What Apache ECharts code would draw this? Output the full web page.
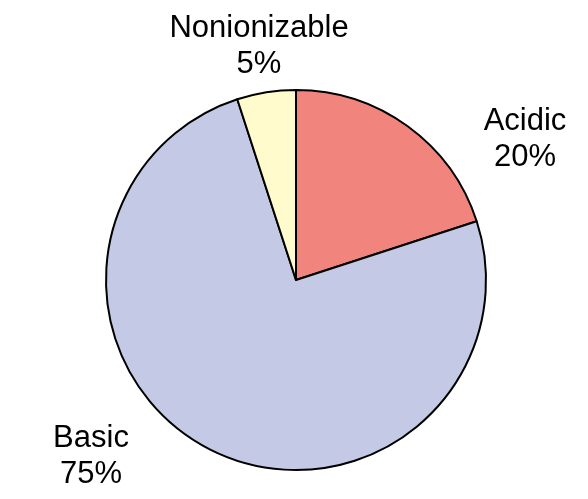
<!DOCTYPE html>
<html>
<head>
<meta charset="utf-8">
<script src="https://cdn.jsdelivr.net/npm/echarts@6/dist/echarts.min.js"></script>
<style>html,body{margin:0;padding:0;background:#fff}#c{width:588px;height:499px}</style>
</head>
<body>
<div id="c"></div>
<script>
const categories = ["Acidic", "Basic", "Nonionizable"];
const values = [20, 75, 5];
const colors = ["#F1857D", "#C4CAE5", "#FFFBCD"];
const labelSpots = [[525, 139], [91, 456], [259, 46]];

const chart = echarts.init(document.getElementById('c'), null, {renderer: 'canvas'});
chart.setOption({
  animation: false,
  series: [{
    type: 'pie',
    center: [296, 280],
    radius: 190,
    startAngle: 90,
    clockwise: true,
    data: categories.map((c, i) => ({name: c, value: values[i], itemStyle: {color: colors[i]}})),
    itemStyle: {borderColor: '#000', borderWidth: 2},
    emphasis: {disabled: true},
    labelLine: {show: false},
    label: {
      show: true,
      position: 'outside',
      formatter: p => p.name + '\n' + p.value + '%',
      fontFamily: 'Liberation Sans, Arial, sans-serif',
      fontSize: 31,
      lineHeight: 36,
      color: '#000',
      align: 'center'
    },
    labelLayout: params => ({
      x: labelSpots[params.dataIndex][0],
      y: labelSpots[params.dataIndex][1],
      align: 'center',
      verticalAlign: 'middle'
    })
  }]
});
</script>
</body>
</html>
